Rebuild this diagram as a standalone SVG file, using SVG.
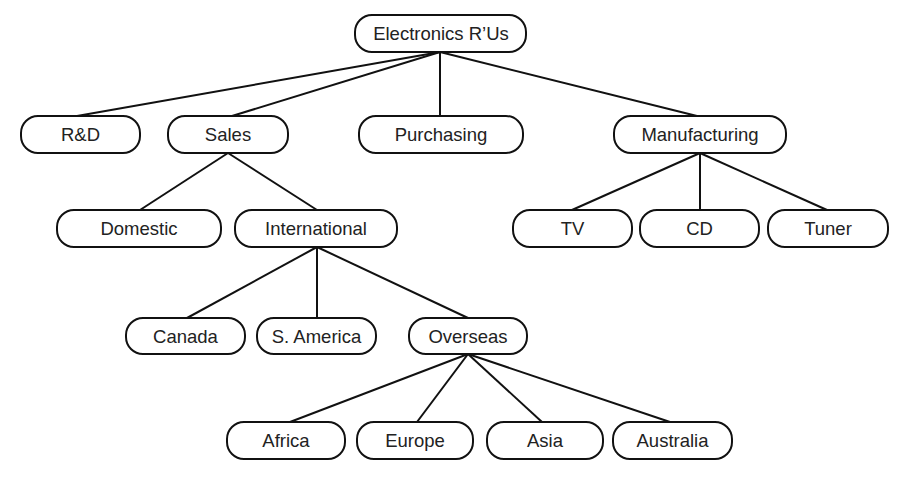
<svg xmlns="http://www.w3.org/2000/svg" width="911" height="478" viewBox="0 0 911 478">
<style>
.n rect{fill:#fff;stroke:#111;stroke-width:2}
.n text{font-family:"Liberation Sans",Arial,sans-serif;font-size:18.5px;fill:#222;text-anchor:middle}
.c line{stroke:#111;stroke-width:2}
</style>
<rect width="911" height="478" fill="#fff"/>
<g class="c">
<line x1="440" y1="52" x2="77" y2="116"/>
<line x1="440" y1="52" x2="232" y2="116"/>
<line x1="440" y1="52" x2="440" y2="116"/>
<line x1="440" y1="52" x2="697" y2="116"/>
<line x1="228" y1="153" x2="140" y2="210"/>
<line x1="228" y1="153" x2="317" y2="210"/>
<line x1="700" y1="153" x2="572" y2="210"/>
<line x1="700" y1="153" x2="700" y2="210"/>
<line x1="700" y1="153" x2="827" y2="210"/>
<line x1="317" y1="247" x2="187" y2="318"/>
<line x1="317" y1="247" x2="317" y2="318"/>
<line x1="317" y1="247" x2="468" y2="318"/>
<line x1="468" y1="354" x2="290" y2="422"/>
<line x1="468" y1="354" x2="417" y2="422"/>
<line x1="468" y1="354" x2="542" y2="422"/>
<line x1="468" y1="354" x2="670" y2="422"/>
</g>
<g id="root" class="n"><rect x="355" y="15" width="171" height="37" rx="17"/><text x="441" y="40">Electronics R’Us</text></g>
<g id="rd" class="n"><rect x="21" y="116" width="119" height="37" rx="17"/><text x="80.5" y="141">R&amp;D</text></g>
<g id="sales" class="n"><rect x="168" y="116" width="120" height="37" rx="17"/><text x="228" y="141">Sales</text></g>
<g id="purchasing" class="n"><rect x="359" y="116" width="164" height="37" rx="17"/><text x="441" y="141">Purchasing</text></g>
<g id="manufacturing" class="n"><rect x="614" y="116" width="172" height="37" rx="17"/><text x="700" y="141">Manufacturing</text></g>
<g id="domestic" class="n"><rect x="57" y="210" width="164" height="37" rx="17"/><text x="139" y="235">Domestic</text></g>
<g id="international" class="n"><rect x="235" y="210" width="162" height="37" rx="17"/><text x="316" y="235">International</text></g>
<g id="tv" class="n"><rect x="513" y="210" width="119" height="37" rx="17"/><text x="572.5" y="235">TV</text></g>
<g id="cd" class="n"><rect x="640" y="210" width="119" height="37" rx="17"/><text x="699.5" y="235">CD</text></g>
<g id="tuner" class="n"><rect x="768" y="210" width="120" height="37" rx="17"/><text x="828" y="235">Tuner</text></g>
<g id="canada" class="n"><rect x="126" y="318" width="119" height="36" rx="17"/><text x="185.5" y="342.5">Canada</text></g>
<g id="samerica" class="n"><rect x="257" y="318" width="119" height="36" rx="17"/><text x="316.5" y="342.5">S. America</text></g>
<g id="overseas" class="n"><rect x="409" y="318" width="118" height="36" rx="17"/><text x="468" y="342.5">Overseas</text></g>
<g id="africa" class="n"><rect x="227" y="422" width="118" height="37" rx="17"/><text x="286" y="447">Africa</text></g>
<g id="europe" class="n"><rect x="357" y="422" width="116" height="37" rx="17"/><text x="415" y="447">Europe</text></g>
<g id="asia" class="n"><rect x="487" y="422" width="116" height="37" rx="17"/><text x="545" y="447">Asia</text></g>
<g id="australia" class="n"><rect x="613" y="422" width="119" height="37" rx="17"/><text x="672.5" y="447">Australia</text></g>
</svg>
